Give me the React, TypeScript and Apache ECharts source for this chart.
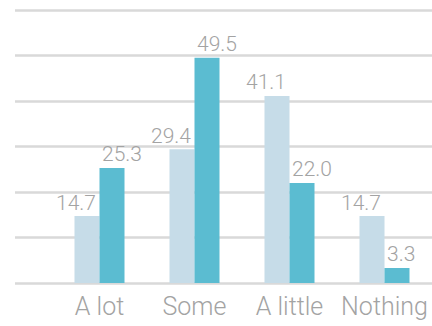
import React, { useEffect, useRef } from "react";
import * as echarts from "echarts";

const categories = ["A lot", "Some", "A little", "Nothing"];
const lightValues = [14.7, 29.4, 41.1, 14.7];
const darkValues = [25.3, 49.5, 22.0, 3.3];

const yMin = 0;
const yMax = 60;
const yInterval = 10;

const FONT = "Roboto";
const TEXT_GREY = "#a3a3a3";
const GRID_GREY = "#d9d9d9";

export default function App() {
  const ref = useRef<HTMLDivElement>(null);

  useEffect(() => {
    if (!ref.current) return;
    const chart = echarts.init(ref.current, null, { renderer: "svg" });

    const labelBase = {
      show: true,
      position: "top" as const,
      distance: 3,
      color: TEXT_GREY,
      fontFamily: FONT,
      fontWeight: 300 as const,
      fontSize: 21,
      formatter: (p: any) => Number(p.value).toFixed(1),
    };

    chart.setOption({
      animation: false,
      grid: [
        // background grid carrying the horizontal rules across the full width
        { left: 15, right: 0, top: 10, bottom: 43 },
        // grid holding the bars and category labels
        { left: 52, right: 0, top: 10, bottom: 43 },
      ],
      xAxis: [
        {
          gridIndex: 0,
          type: "category",
          data: categories,
          show: false,
        },
        {
          gridIndex: 1,
          type: "category",
          data: categories,
          axisLine: { show: false },
          axisTick: { show: false },
          axisLabel: {
            interval: 0,
            hideOverlap: false,
            color: TEXT_GREY,
            fontFamily: FONT,
            fontWeight: 300,
            fontSize: 25,
            margin: 11,
          },
        },
      ],
      yAxis: [
        {
          gridIndex: 0,
          type: "value",
          min: yMin,
          max: yMax,
          interval: yInterval,
          axisLine: { show: false },
          axisTick: { show: false },
          axisLabel: { show: false },
          splitLine: { lineStyle: { color: GRID_GREY, width: 2.5 } },
        },
        {
          gridIndex: 1,
          type: "value",
          min: yMin,
          max: yMax,
          interval: yInterval,
          axisLine: { show: false },
          axisTick: { show: false },
          axisLabel: { show: false },
          splitLine: { show: false },
        },
      ],
      series: [
        {
          type: "bar",
          xAxisIndex: 1,
          yAxisIndex: 1,
          data: lightValues,
          barWidth: 25,
          barGap: "0%",
          itemStyle: { color: "#c6dce8" },
          label: { ...labelBase, align: "right", offset: [9, 0] },
        },
        {
          type: "bar",
          xAxisIndex: 1,
          yAxisIndex: 1,
          data: darkValues,
          barWidth: 25,
          barGap: "0%",
          itemStyle: { color: "#5bbcd1" },
          label: { ...labelBase, align: "left", offset: [-10, 0] },
        },
      ],
    });

    return () => chart.dispose();
  }, []);

  return (
    <div
      ref={ref}
      style={{ width: 432, height: 326, position: "absolute", left: 0, top: 0 }}
    />
  );
}
